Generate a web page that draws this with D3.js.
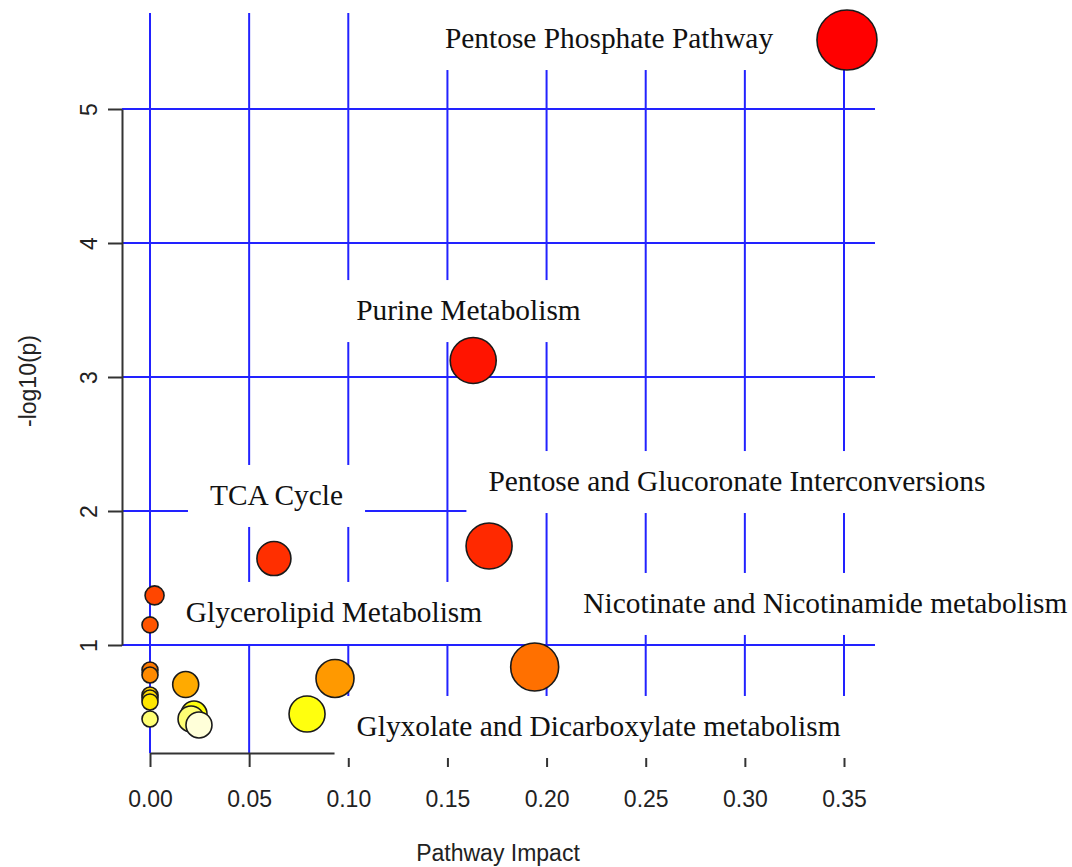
<!DOCTYPE html>
<html>
<head>
<meta charset="utf-8">
<script src="https://cdn.jsdelivr.net/npm/d3@7"></script>
<style>
  html, body { margin: 0; padding: 0; background: #fff; }
  svg { display: block; }
</style>
</head>
<body>
<svg id="chart" width="1072" height="867"></svg>
<script>
// ---- data ----
const impact =   [0.3515, 0.163, 0.171, 0.0625, 0.194, 0.0933, 0.0792, 0.0023, 0.0, 0.0, 0.0, 0.0, 0.0, 0.0, 0.0, 0.018, 0.0222, 0.0207, 0.0247];
const negLogP =  [5.515, 3.123, 1.739, 1.645, 0.836, 0.75, 0.485, 1.37, 1.15, 0.813, 0.776, 0.627, 0.604, 0.575, 0.448, 0.705, 0.485, 0.448, 0.403];
const bubbleSize = [30, 23, 23, 17, 24, 19, 18, 9.5, 8, 8, 8, 8, 8, 8, 8, 13, 13, 13, 13];

const labelNames = ["Pentose Phosphate Pathway", "Purine Metabolism", "TCA Cycle",
  "Pentose and Glucoronate Interconversions", "Nicotinate and Nicotinamide metabolism",
  "Glycerolipid Metabolism", "Glyxolate and Dicarboxylate metabolism"];
const labelX = [0.2315, 0.1606, 0.0638, 0.2960, 0.3406, 0.0928, 0.2262];
const labelY = [5.455, 3.425, 2.045, 2.149, 1.239, 1.172, 0.321];

const xTicks = [0, 0.05, 0.10, 0.15, 0.20, 0.25, 0.30, 0.35];
const yTicks = [1, 2, 3, 4, 5];
const xTitle = "Pathway Impact";
const yTitle = "-log10(p)";

// colour stops (heat colours by significance)
const colorDomain = [0.40, 0.45, 0.49, 0.58, 0.63, 0.705, 0.75, 0.78, 0.84, 1.15, 1.4, 1.7, 3.1, 5.5];
const colorRange = ["#FFFFE0", "#FFFF70", "#FFFF00", "#FFE500", "#FFD000", "#FFAA00", "#FF9900",
  "#FF8800", "#FF6E00", "#FF5500", "#FF4400", "#FF2A00", "#FF1400", "#FF0000"];

// ---- chart ----
const svg = d3.select("#chart");
svg.append("rect").attr("width", 1072).attr("height", 867).attr("fill", "#fff");

const x = d3.scaleLinear().domain([0, 0.35]).range([150, 844]);
const y = d3.scaleLinear().domain([1, 5]).range([645, 109]);
const r = d3.scaleLinear().domain([0, 30]).range([0, 30]);
const color = d3.scaleLinear().domain(colorDomain).range(colorRange).clamp(true);

const gridTop = 13, gridBottom = 753, gridLeft = 122, gridRight = 875;
const gridColor = "#2222ff";

// grid
const grid = svg.append("g");
grid.selectAll("line.v").data(xTicks).join("line")
  .attr("x1", d => x(d)).attr("x2", d => x(d))
  .attr("y1", gridTop).attr("y2", gridBottom)
  .attr("stroke", gridColor).attr("stroke-width", 2);
grid.selectAll("line.h").data(yTicks).join("line")
  .attr("x1", gridLeft).attr("x2", gridRight)
  .attr("y1", d => y(d)).attr("y2", d => y(d))
  .attr("stroke", gridColor).attr("stroke-width", 2);

const axisFont = "'Liberation Sans Narrow', 'Arial Narrow', 'Liberation Sans', Arial, sans-serif";

// x axis
const xAxis = svg.append("g").attr("transform", `translate(0,${gridBottom})`)
  .call(d3.axisBottom(x).tickValues(xTicks).tickFormat(d3.format(".2f")).tickSize(14).tickSizeOuter(0).tickPadding(24));
xAxis.select(".domain").attr("stroke", "#333").attr("stroke-width", 2);
xAxis.selectAll(".tick line").attr("stroke", "#333").attr("stroke-width", 2);
xAxis.selectAll(".tick text").attr("font-family", axisFont).attr("font-size", 23).attr("fill", "#222");

// y axis
const yAxis = svg.append("g").attr("transform", `translate(${gridLeft},0)`)
  .call(d3.axisLeft(y).tickValues(yTicks).tickFormat(d3.format("d")).tickSize(14).tickSizeOuter(0));
yAxis.select(".domain").attr("stroke", "#333").attr("stroke-width", 2);
yAxis.selectAll(".tick line").attr("stroke", "#333").attr("stroke-width", 2);
yAxis.selectAll(".tick text")
  .attr("font-family", axisFont).attr("font-size", 23).attr("fill", "#222")
  .attr("x", null).attr("dy", null)
  .attr("text-anchor", "middle")
  .attr("transform", "translate(-33,0) rotate(-90)")
  .attr("dy", "0.35em");

// axis titles
svg.append("text").attr("x", 498).attr("y", 861)
  .attr("text-anchor", "middle").attr("font-family", axisFont).attr("font-size", 23).attr("fill", "#222")
  .text(xTitle);
svg.append("text").attr("transform", "translate(36,381) rotate(-90)")
  .attr("text-anchor", "middle").attr("font-family", axisFont).attr("font-size", 23).attr("fill", "#222")
  .text(yTitle);

// labels with white boxes
const labels = labelNames.map((n, i) => ({ name: n, lx: labelX[i], ly: labelY[i] }));
const lg = svg.append("g");
const lab = lg.selectAll("g").data(labels).join("g");
const boxes = lab.append("rect").attr("fill", "#fff");
const texts = lab.append("text")
  .attr("x", d => x(d.lx)).attr("y", d => y(d.ly))
  .attr("text-anchor", "middle")
  .attr("font-family", "'Liberation Serif', 'Times New Roman', serif")
  .attr("font-size", 29.4).attr("fill", "#111")
  .text(d => d.name);
texts.each(function (d) {
  const b = this.getBBox();
  d3.select(this.previousSibling)
    .attr("x", b.x - 22).attr("width", b.width + 44)
    .attr("y", b.y - 14).attr("height", b.height + 30);
});

// points
const pts = impact.map((v, i) => ({ x: v, y: negLogP[i], s: bubbleSize[i] }));
svg.append("g").selectAll("circle").data(pts).join("circle")
  .attr("cx", d => x(d.x)).attr("cy", d => y(d.y)).attr("r", d => r(d.s))
  .attr("fill", d => color(d.y))
  .attr("stroke", "#1a1a1a").attr("stroke-width", 1.6);
</script>
</body>
</html>
